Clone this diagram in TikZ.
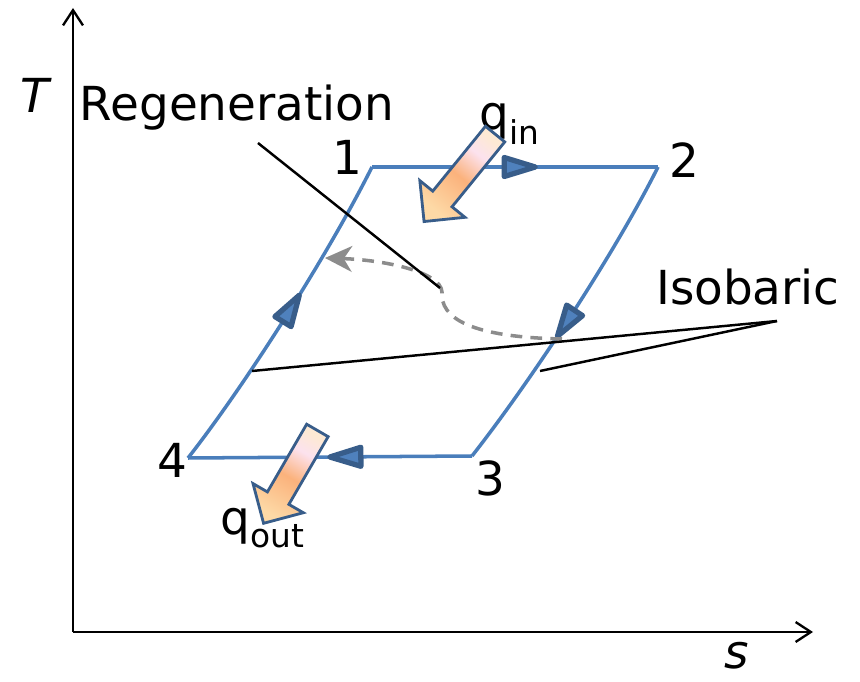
\documentclass[tikz,border=0pt]{standalone}
\usepackage{fontspec}
\setmainfont{DejaVu Sans}
\usetikzlibrary{arrows.meta, decorations.markings, shapes.arrows}

\definecolor{cycleline}{HTML}{4A7EBB}
\definecolor{cycledark}{HTML}{385D8A}
\definecolor{cyclefill}{HTML}{4F81BD}
\definecolor{regengray}{HTML}{8C8C8C}
\definecolor{heattail}{HTML}{FDE9D4}
\definecolor{heatpink}{HTML}{FCE2EE}
\definecolor{heatmid}{HTML}{FBB27C}
\definecolor{heattip}{HTML}{FDD9A6}

\pgfdeclarehorizontalshading{heat}{100bp}{color(0bp)=(heattail); color(25bp)=(heattail); color(36bp)=(heatpink); color(52bp)=(heatmid); color(75bp)=(heattip); color(100bp)=(heattip)}

\begin{document}
\begin{tikzpicture}[
    x=0.03cm, y=-0.03cm,
    lbl/.style={inner sep=0pt, font=\fontsize{40}{46}\selectfont},
    axis/.style={line width=2pt, -{Straight Barb[length=13pt, width=17pt, line width=2pt]}},
    cycleline/.style={draw=cycleline, line width=3pt},
    midarrow/.style={postaction={decorate, decoration={markings,
        mark=at position #1 with {\arrow{Triangle[length=37pt, width=21pt, line width=4.5pt, round, fill=cyclefill, color=cycledark]}}}}},
    leader/.style={draw=black, line width=2.1pt},
    regen/.style={draw=regengray, line width=3pt, dash pattern=on 10pt off 7pt,
        -{Stealth[length=23pt, width=22pt, inset=7pt, fill=regengray]}},
    heatarrow/.style={single arrow, draw=cycledark, line width=2.4pt, shading=heat,
        inner xsep=0pt, inner ysep=0.33cm, single arrow head extend=0.5cm}
]
\useasboundingbox (0,0) rectangle (860,682);

% axes
\coordinate (origin) at (73,632);
\coordinate (ttop) at (73,8);
\coordinate (sright) at (813,632);
\draw[axis] (origin) -- (ttop);
\draw[axis] (origin) -- (sright);
\node[lbl, font=\fontsize{40}{46}\selectfont\itshape] (tlabel) at (35,95) {T};
\node[lbl, font=\fontsize{40}{46}\selectfont\itshape] (slabel) at (737,656) {s};

% cycle
\coordinate (p1) at (372,167);
\coordinate (p2) at (658,167);
\coordinate (p3) at (472,456);
\coordinate (p4) at (188,458);
\draw[cycleline, midarrow=0.58] (p1) -- (p2);
\draw[cycleline, midarrow=0.58] (p2) .. controls (613,257) and (527,386) .. (p3);
\draw[cycleline, midarrow=0.51] (p3) -- (p4);
\draw[cycleline, midarrow=0.58] (p4) .. controls (243,388) and (327,257) .. (p1);

\node[lbl] (n1) at (347,157) {1};
\node[lbl] (n2) at (684,160) {2};
\node[lbl] (n3) at (490,478) {3};
\node[lbl] (n4) at (172,460) {4};

% regeneration
\coordinate (regenin) at (562,339);
\coordinate (regenmid) at (442,292);
\coordinate (regenout) at (325,258);
\draw[regen] (regenin) .. controls (470,337) and (440,318) .. (regenmid)
    .. controls (441,272) and (385,260) .. (regenout);
\node[lbl] (regenlabel) at (237,108) {Regeneration};
\coordinate (regenfoot) at (440,288);
\draw[leader] ([shift={(21,35)}]regenlabel.center) -- (regenfoot);

% isobaric
\node[lbl] (isolabel) at (748,287) {Isobaric};
\coordinate (isofork) at (777,321);
\coordinate (isoleft) at (252,371);
\coordinate (isoright) at (540,371);
\draw[leader] (isofork) -- (isoleft);
\draw[leader] (isofork) -- (isoright);

% heat in and out
\node[lbl] (qin) at (510,124) {q\textsubscript{in}};
\node[lbl] (qout) at (263,528) {q\textsubscript{out}};
\node[heatarrow, minimum height=3.38cm, rotate=230.9, shading angle=230.9] (qinarrow) at (463.5,173) {};
\node[heatarrow, minimum height=3.22cm, rotate=239.9, shading angle=239.9] (qoutarrow) at (293.6,471.5) {};

\end{tikzpicture}
\end{document}
